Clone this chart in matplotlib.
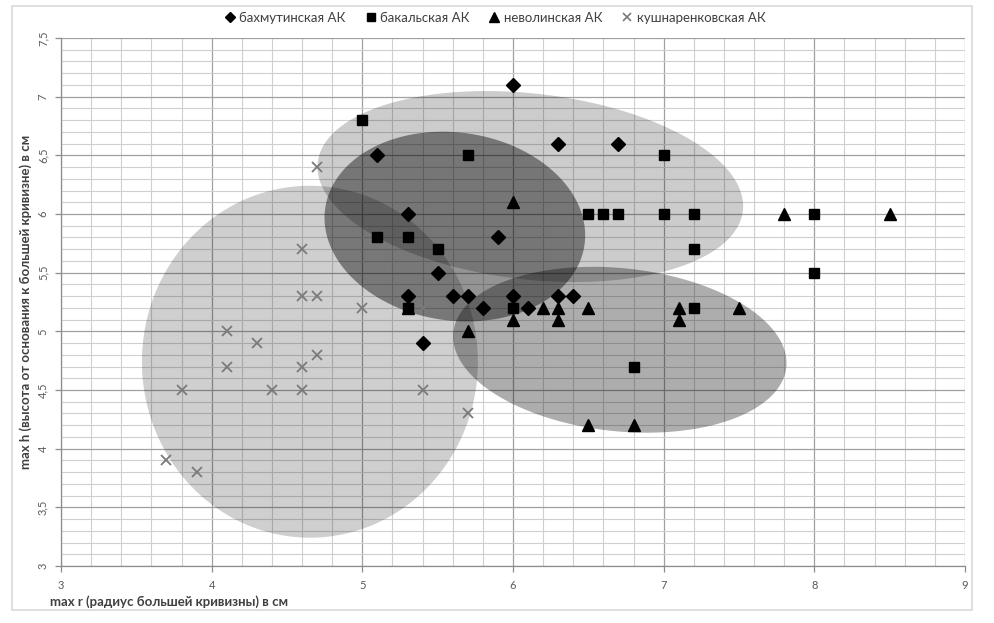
import numpy as np
import matplotlib
matplotlib.use("Agg")
import matplotlib.pyplot as plt
from matplotlib.patches import Polygon, Rectangle
from matplotlib.ticker import MultipleLocator, FuncFormatter
from matplotlib.lines import Line2D

plt.rcParams['font.family'] = ['Lato', 'DejaVu Sans']

# ---- data ----
series_names = ["бахмутинская АК", "бакальская АК", "неволинская АК", "кушнаренковская АК"]

bakhm_r = [6.0, 5.1, 6.3, 6.7, 5.3, 5.9, 5.5, 5.3, 5.6, 5.7, 6.0, 6.3, 6.4, 5.8, 6.1, 5.4]
bakhm_h = [7.1, 6.5, 6.6, 6.6, 6.0, 5.8, 5.5, 5.3, 5.3, 5.3, 5.3, 5.3, 5.3, 5.2, 5.2, 4.9]

bakal_r = [5.0, 5.7, 7.0, 5.1, 5.3, 5.5, 6.5, 6.6, 6.7, 7.0, 7.2, 8.0, 7.2, 8.0, 5.3, 6.0, 7.2, 6.8]
bakal_h = [6.8, 6.5, 6.5, 5.8, 5.8, 5.7, 6.0, 6.0, 6.0, 6.0, 6.0, 6.0, 5.7, 5.5, 5.2, 5.2, 5.2, 4.7]

nevol_r = [6.0, 7.8, 8.5, 5.3, 6.2, 6.3, 6.5, 7.1, 7.5, 6.0, 6.3, 7.1, 5.7, 6.5, 6.8]
nevol_h = [6.1, 6.0, 6.0, 5.2, 5.2, 5.2, 5.2, 5.2, 5.2, 5.1, 5.1, 5.1, 5.0, 4.2, 4.2]

kush_r = [4.7, 4.6, 4.6, 4.7, 5.0, 5.4, 4.1, 4.3, 4.1, 4.7, 4.6, 3.8, 4.4, 4.6, 5.4, 5.7, 3.7, 3.9]
kush_h = [6.4, 5.7, 5.3, 5.3, 5.2, 5.2, 5.0, 4.9, 4.7, 4.8, 4.7, 4.5, 4.5, 4.5, 4.5, 4.3, 3.9, 3.8]

x_label = "max r (радиус большей кривизны) в см"
y_label = "max h (высота от основания к большей кривизне) в см"

# ---- figure ----
W, H = 994, 623
fig = plt.figure(figsize=(W / 100, H / 100), dpi=100)
fig.patch.set_facecolor('white')

# outer chart border
fig.add_artist(Rectangle((12 / W, 1 - 610 / H), (972 - 12) / W, (610 - 6) / H,
                         transform=fig.transFigure, fill=False,
                         edgecolor='#d9d9d9', linewidth=1.2))

L, R, T, B = 61, 965, 38, 566
ax = fig.add_axes([L / W, 1 - B / H, (R - L) / W, (B - T) / H])
ax.set_xlim(3, 9)
ax.set_ylim(3, 7.5)

ax.xaxis.set_major_locator(MultipleLocator(1))
ax.xaxis.set_minor_locator(MultipleLocator(0.2))
ax.yaxis.set_major_locator(MultipleLocator(0.5))
ax.yaxis.set_minor_locator(MultipleLocator(0.1))
ax.grid(which='minor', color='#cfcfcf', linewidth=0.8, zorder=0)
ax.grid(which='major', color='#a0a0a0', linewidth=0.9, zorder=0)
ax.set_axisbelow(True)

for s in ['top', 'right']:
    ax.spines[s].set_visible(False)
for s in ['left', 'bottom']:
    ax.spines[s].set_color('#8c8c8c')
    ax.spines[s].set_linewidth(0.9)

fmt = FuncFormatter(lambda v, p: ('%g' % v).replace('.', ','))
ax.xaxis.set_major_formatter(fmt)
ax.yaxis.set_major_formatter(fmt)
ax.tick_params(which='major', length=4, color='#8c8c8c', labelsize=8,
               labelcolor='#595959', width=0.9)
ax.tick_params(which='minor', length=0)
ax.tick_params(axis='y', pad=5)
ax.tick_params(axis='x', pad=6)
for lab in ax.get_yticklabels():
    lab.set_rotation(90)
    lab.set_va('center')

# ---- ellipses (shapes) ----
k = ((B - T) / 4.5) / ((R - L) / 6.0)   # y-unit pixels / x-unit pixels
ellipses = [
    # cx, cy, semi-a (x units), semi-b (x units), angle deg, alpha
    (4.652, 4.741, 1.115, 1.168, 0.0, 0.19),
    (6.115, 6.234, 1.420, 0.617, -6.5, 0.20),
    (5.614, 5.893, 0.869, 0.624, -8.0, 0.42),
    (6.709, 4.843, 1.111, 0.541, -6.0, 0.32),
]
t = np.linspace(0, 2 * np.pi, 400)
for cx, cy, a, b, ang, al in ellipses:
    th = np.deg2rad(ang)
    X = cx + a * np.cos(t) * np.cos(th) - b * np.sin(t) * np.sin(th)
    Y = cy * k + a * np.cos(t) * np.sin(th) + b * np.sin(t) * np.cos(th)
    ax.add_patch(Polygon(np.column_stack([X, Y / k]), closed=True,
                         facecolor='black', alpha=al, edgecolor='none', zorder=2))

# ---- markers ----
ax.plot(bakhm_r, bakhm_h, 'D', ms=6.8, color='black', ls='none', zorder=5)
ax.plot(bakal_r, bakal_h, 's', ms=7.2, color='black', ls='none', zorder=5)
ax.plot(nevol_r, nevol_h, '^', ms=8.5, color='black', ls='none', zorder=5)
ax.plot(kush_r, kush_h, 'x', ms=7.5, mew=1.3, color='#7a7a7a', ls='none', zorder=5)

# ---- legend ----
handles = [
    Line2D([], [], marker='D', ms=5, color='black', ls='none'),
    Line2D([], [], marker='s', ms=6, color='black', ls='none'),
    Line2D([], [], marker='^', ms=7, color='black', ls='none'),
    Line2D([], [], marker='x', ms=6, mew=1.2, color='#7a7a7a', ls='none'),
]
fig.legend(handles, series_names, loc='center', bbox_to_anchor=(495 / W, 1 - 18 / H),
           ncol=4, frameon=False, fontsize=9.5, handlelength=0.8, handletextpad=0.3,
           columnspacing=1.5, labelcolor='#404040')

# ---- axis titles ----
fig.text(50 / W, 1 - 602 / H, x_label, ha='left', va='center', fontsize=9.5,
         fontweight='bold', color='#404040')
fig.text(26 / W, 1 - 302 / H, y_label, ha='center', va='center', rotation=90,
         fontsize=9.5, fontweight='bold', color='#404040')

fig.savefig('out.png', dpi=100, facecolor='white')
